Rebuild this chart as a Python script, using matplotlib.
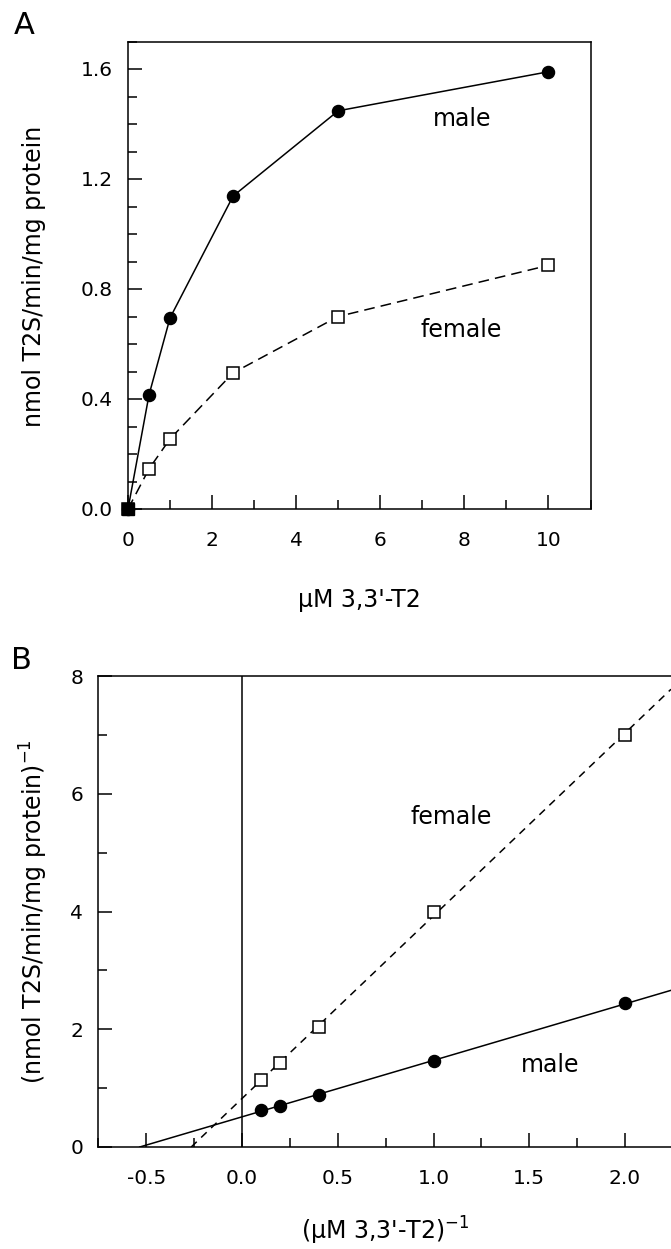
import numpy as np
import matplotlib
matplotlib.use("Agg")
import matplotlib.pyplot as plt
from matplotlib.ticker import MultipleLocator, FormatStrFormatter

plt.rcParams['font.family'] = ['DejaVu Sans']
plt.rcParams['axes.unicode_minus'] = False

# ---- Panel A data ----
conc_A = [0, 0.5, 1, 2.5, 5, 10]
male_A = [0.0, 0.415, 0.695, 1.138, 1.448, 1.59]
female_A = [0.0, 0.146, 0.255, 0.495, 0.70, 0.886]

# ---- Panel B data (double reciprocal) ----
inv_conc_B = [0.1, 0.2, 0.4, 1.0, 2.0]
male_B = [0.635, 0.69, 0.89, 1.456, 2.44]
female_B = [1.13, 1.43, 2.04, 4.0, 7.0]

W, H = 671, 1249
fig = plt.figure(figsize=(W / 100, H / 100), dpi=100)

def px_box(left, top, right, bottom):
    return [left / W, 1 - bottom / H, (right - left) / W, (bottom - top) / H]

lw_line = 1.1
lw_spine = 1.1
TICK_FS = 14.5
LABEL_FS = 17
ANN_FS = 17
MS = 8.7

def style_ticks(ax):
    ax.tick_params(axis='both', which='major', direction='in', length=10,
                   width=lw_spine, labelsize=TICK_FS, color='black')
    ax.tick_params(axis='both', which='minor', direction='in', length=6.5,
                   width=lw_spine, color='black')
    ax.tick_params(axis='x', which='major', pad=16)
    ax.tick_params(axis='y', which='major', pad=11)
    for s in ax.spines.values():
        s.set_linewidth(lw_spine)

# ================= Panel A =================
axA = fig.add_axes(px_box(128, 41.5, 590.5, 509))
axA.plot(conc_A, male_A, '-', color='black', lw=lw_line, marker='o',
         ms=MS, mfc='black', mec='black', clip_on=False, zorder=3)
axA.plot(conc_A, female_A, '-', color='black', lw=lw_line, marker='s',
         ms=MS, mfc='white', mec='black', mew=1.1, clip_on=False, zorder=3,
         dashes=(7, 4))
axA.plot(conc_A[0], female_A[0], 's', ms=MS, mfc='black', mec='black',
         clip_on=False, zorder=4)
axA.set_xlim(0, 11)
axA.set_ylim(0, 1.7)
axA.xaxis.set_major_locator(MultipleLocator(2))
axA.xaxis.set_minor_locator(MultipleLocator(1))
axA.yaxis.set_major_locator(MultipleLocator(0.4))
axA.yaxis.set_minor_locator(MultipleLocator(0.1))
axA.yaxis.set_major_formatter(FormatStrFormatter('%.1f'))
style_ticks(axA)
axA.text(7.95, 1.42, 'male', fontsize=ANN_FS, ha='center', va='center')
axA.text(7.93, 0.65, 'female', fontsize=ANN_FS, ha='center', va='center')

fig.text(24 / W, 1 - 26 / H, 'A', fontsize=22, ha='center', va='center')
fig.text(34 / W, 1 - 276 / H, 'nmol T2S/min/mg protein', fontsize=LABEL_FS,
         rotation=90, ha='center', va='center')
fig.text(359 / W, 1 - 600 / H, "µM 3,3'-T2", fontsize=LABEL_FS,
         ha='center', va='center')

# ================= Panel B =================
axB = fig.add_axes(px_box(98.4, 676, 671, 1147))
xmin_B, xmax_B = -0.75, 2.24
axB.set_xlim(xmin_B, xmax_B)
axB.set_ylim(0, 8)

# regression lines fitted from the data, drawn from x-intercept to edge
for yvals, ls in ((male_B, '-'), (female_B, '--')):
    slope, intercept = np.polyfit(inv_conc_B, yvals, 1)
    x0 = -intercept / slope
    xs = np.array([x0, xmax_B])
    line, = axB.plot(xs, slope * xs + intercept, color='black', lw=lw_line,
                     zorder=2)
    if ls == '--':
        line.set_dashes((5, 4))

axB.plot(inv_conc_B, male_B, 'o', ms=MS, mfc='black', mec='black', zorder=3)
axB.plot(inv_conc_B, female_B, 's', ms=MS, mfc='white', mec='black',
         mew=1.1, zorder=3)
axB.axvline(0, color='black', lw=lw_spine, zorder=1)

axB.xaxis.set_major_locator(MultipleLocator(0.5))
axB.xaxis.set_minor_locator(MultipleLocator(0.25))
axB.xaxis.set_major_formatter(FormatStrFormatter('%.1f'))
axB.yaxis.set_major_locator(MultipleLocator(2))
axB.yaxis.set_minor_locator(MultipleLocator(1))
style_ticks(axB)
axB.spines['right'].set_visible(False)
axB.tick_params(axis='y', which='both', right=False)

axB.text(1.09, 5.6, 'female', fontsize=ANN_FS, ha='center', va='center')
axB.text(1.61, 1.39, 'male', fontsize=ANN_FS, ha='center', va='center')

fig.text(21 / W, 1 - 661 / H, 'B', fontsize=22, ha='center', va='center')
fig.text(34 / W, 1 - 912 / H, r'(nmol T2S/min/mg protein)$^{\mathregular{-1}}$',
         fontsize=LABEL_FS, rotation=90, ha='center', va='center')
fig.text(385 / W, 1 - 1231 / H, r"(µM 3,3'-T2)$^{\mathregular{-1}}$",
         fontsize=LABEL_FS, ha='center', va='center')

fig.savefig('out.png', dpi=100)
